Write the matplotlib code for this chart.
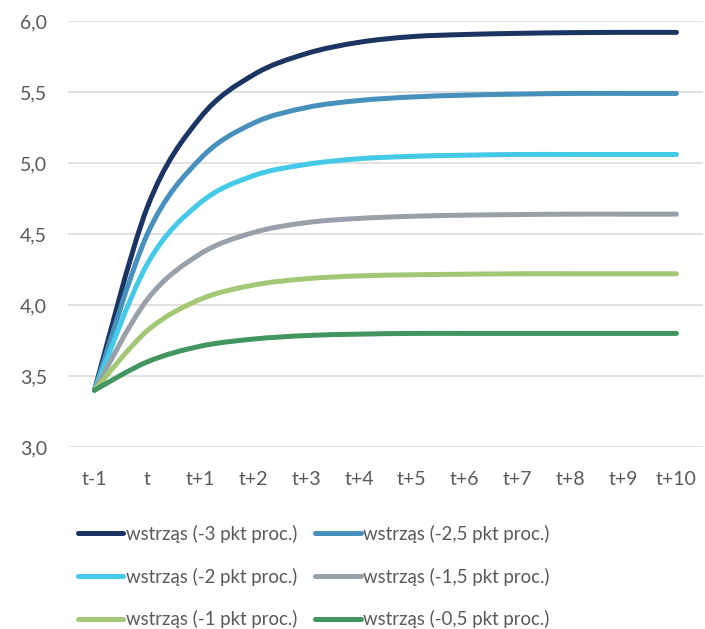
import numpy as np
import matplotlib
matplotlib.use("Agg")
from matplotlib import pyplot as plt
from matplotlib.path import Path
from matplotlib.patches import PathPatch
from matplotlib.lines import Line2D

plt.rcParams['font.family'] = ['Lato', 'DejaVu Sans']

periods = ['t-1', 't', 't+1', 't+2', 't+3', 't+4', 't+5', 't+6', 't+7', 't+8', 't+9', 't+10']

shock_30 = [3.40, 4.69, 5.32, 5.62, 5.77, 5.85, 5.89, 5.905, 5.913, 5.918, 5.92, 5.92]
shock_25 = [3.40, 4.50, 5.03, 5.28, 5.39, 5.44, 5.465, 5.478, 5.485, 5.49, 5.49, 5.49]
shock_20 = [3.40, 4.29, 4.72, 4.91, 4.99, 5.03, 5.047, 5.055, 5.06, 5.06, 5.06, 5.06]
shock_15 = [3.40, 4.04, 4.36, 4.51, 4.58, 4.61, 4.625, 4.633, 4.637, 4.64, 4.64, 4.64]
shock_10 = [3.40, 3.82, 4.04, 4.14, 4.185, 4.205, 4.213, 4.217, 4.22, 4.22, 4.22, 4.22]
shock_05 = [3.40, 3.60, 3.71, 3.76, 3.785, 3.795, 3.80, 3.80, 3.80, 3.80, 3.80, 3.80]

labels = ['wstrząs (-3 pkt proc.)', 'wstrząs (-2,5 pkt proc.)',
          'wstrząs (-2 pkt proc.)', 'wstrząs (-1,5 pkt proc.)',
          'wstrząs (-1 pkt proc.)', 'wstrząs (-0,5 pkt proc.)']
series = [shock_30, shock_25, shock_20, shock_15, shock_10, shock_05]
colors = ['#1b3462', '#4690bb', '#45c9e8', '#98a0aa', '#a2c876', '#42955f']


def smooth_path(xs, ys):
    # bezier segments through every point, same idea as a smoothed office chart line
    pts = np.column_stack([xs, ys]).astype(float)
    n = len(pts)
    verts = [pts[0]]
    codes = [Path.MOVETO]
    for i in range(n - 1):
        p0 = pts[max(i - 1, 0)]
        p1 = pts[i]
        p2 = pts[i + 1]
        p3 = pts[min(i + 2, n - 1)]
        c1 = p1 + (p2 - p0) / 6.0
        c2 = p2 - (p3 - p1) / 6.0
        verts += [c1, c2, p2]
        codes += [Path.CURVE4] * 3
    return Path(verts, codes)


fig = plt.figure(figsize=(7.05, 6.29), dpi=100)
ax = fig.add_axes([0.0965, 0.2893, 0.9005, 0.6773])

x = np.arange(len(periods))
for vals, col in zip(series, colors):
    patch = PathPatch(smooth_path(x, vals), facecolor='none', edgecolor=col,
                      lw=3.6, capstyle='round', joinstyle='round', zorder=3)
    ax.add_patch(patch)

ax.set_xlim(-0.5, len(periods) - 0.5)
ax.set_ylim(3.0, 6.0)
ax.set_yticks(np.arange(3.0, 6.01, 0.5))
ax.set_yticklabels([f'{v:.1f}'.replace('.', ',') for v in np.arange(3.0, 6.01, 0.5)])
ax.set_xticks(x)
ax.set_xticklabels(periods)
ax.grid(axis='y', color='#d9d9d9', lw=1.1)
ax.set_axisbelow(True)
for s in ax.spines.values():
    s.set_visible(False)
ax.tick_params(axis='both', length=0, labelsize=14, colors='#595959')
ax.tick_params(axis='y', pad=15)
ax.tick_params(axis='x', pad=17)

# legend fills row by row: reorder so matplotlib's column filling gives that
order = [0, 2, 4, 1, 3, 5]
handles = [Line2D([], [], color=colors[i], lw=3.6, solid_capstyle='round') for i in order]
fig.legend(handles, [labels[i] for i in order], ncol=2, loc='upper left',
           bbox_to_anchor=(0.11, 0.1655),
           frameon=False, fontsize=13.4, handlelength=2.45, handletextpad=0.15,
           columnspacing=0.95, labelspacing=1.32, borderpad=0, borderaxespad=0,
           labelcolor='#595959')

fig.savefig('out.png', dpi=100)
